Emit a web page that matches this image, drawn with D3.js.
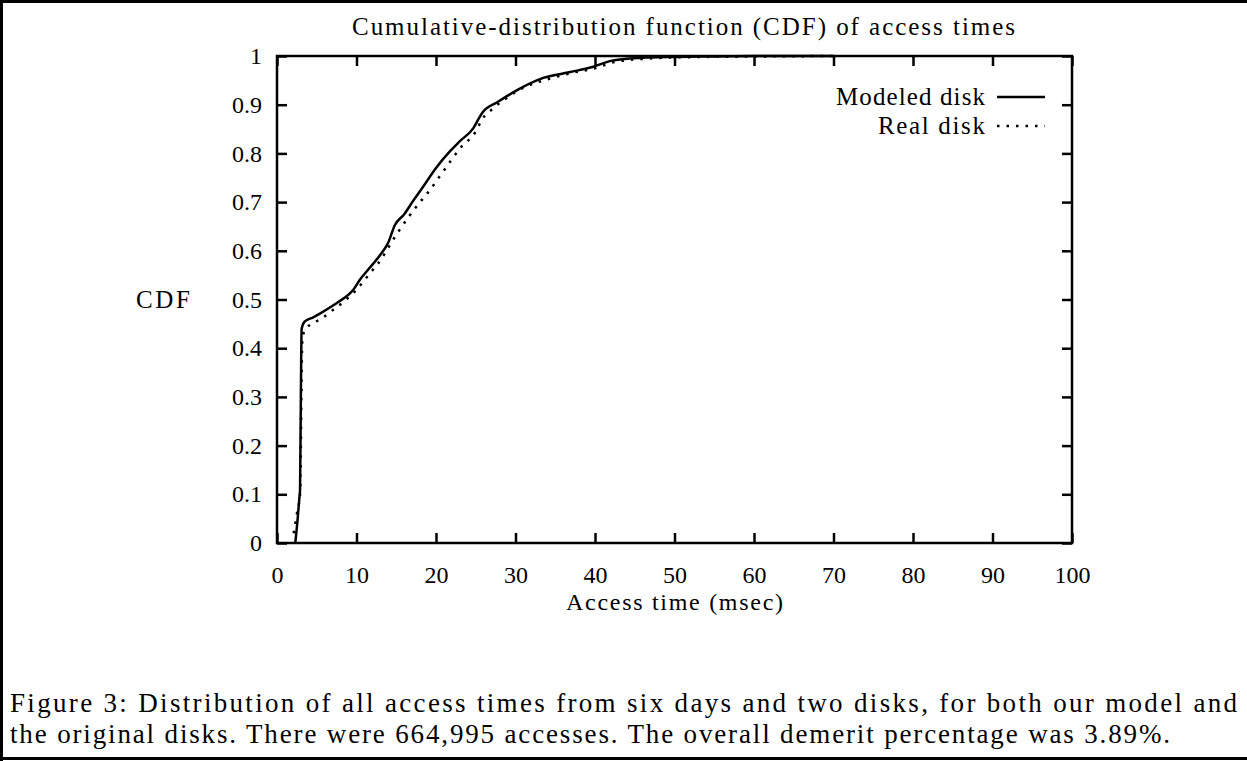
<!DOCTYPE html>
<html>
<head>
<meta charset="utf-8">
<script src="https://cdn.jsdelivr.net/npm/d3@7"></script>
<style>
  body { margin: 0; background: #fff; }
  text { font-family: "Liberation Serif", serif; fill: #000; }
</style>
</head>
<body>
<div id="chart"></div>
<script>
// access time (msec) vs CDF
const modelX = [2.3, 2.6, 2.8, 2.9, 3.0, 3.1, 3.5, 4.5, 5.5, 6.5, 7.9, 9.0, 9.6, 10.4, 11.5, 13.0, 14.0, 14.8, 16.0, 17.1, 18.4, 20.0, 21.8, 23.0, 24.7, 25.5, 25.9, 27.7, 30.2, 33.5, 36.9, 39.8, 42.0, 45.7, 50, 55, 60, 70];
const modelY = [0, 0.05, 0.09, 0.11, 0.3, 0.44, 0.455, 0.463, 0.472, 0.482, 0.497, 0.51, 0.52, 0.54, 0.562, 0.592, 0.617, 0.652, 0.675, 0.702, 0.732, 0.77, 0.805, 0.825, 0.852, 0.875, 0.885, 0.905, 0.93, 0.955, 0.967, 0.978, 0.99, 0.996, 0.998, 0.999, 1.0, 1.0];

const realX = [2.1, 2.5, 2.9, 3.0, 3.1, 3.2, 3.6, 4.2, 5.7, 7.0, 8.5, 10.0, 11.5, 13.2, 14.5, 15.5, 17.5, 19.0, 21.0, 23.0, 25.0, 25.8, 27.0, 29.0, 31.0, 34.0, 37.0, 40.0, 42.5, 46, 50, 60, 70];
const realY = [0.02, 0.06, 0.1, 0.2, 0.35, 0.42, 0.44, 0.448, 0.462, 0.478, 0.497, 0.52, 0.55, 0.585, 0.62, 0.645, 0.69, 0.72, 0.765, 0.81, 0.845, 0.87, 0.89, 0.915, 0.935, 0.952, 0.965, 0.975, 0.988, 0.994, 0.997, 0.999, 1.0];

const xTicks = [0, 10, 20, 30, 40, 50, 60, 70, 80, 90, 100];
const yTicks = [0, 0.1, 0.2, 0.3, 0.4, 0.5, 0.6, 0.7, 0.8, 0.9, 1];
const yTickLabels = ['0', '0.1', '0.2', '0.3', '0.4', '0.5', '0.6', '0.7', '0.8', '0.9', '1'];

const seriesNames = ['Modeled disk', 'Real disk'];
const title = 'Cumulative-distribution function (CDF) of access times';
const captionLines = [
    'Figure 3: Distribution of all access times from six days and two disks, for both our model and',
    'the original disks. There were 664,995 accesses. The overall demerit percentage was 3.89%.'
];

const width = 1247, height = 761;
const margin = { left: 277, right: 1072, top: 56, bottom: 543 };
const fontSize = 25;

const svg = d3.select('#chart').append('svg')
    .attr('width', width)
    .attr('height', height);

// outer frame (left, top, bottom)
svg.append('path')
    .attr('d', `M1.5,${height} L1.5,1.5 L${width},1.5 M0,758.5 L${width},758.5`)
    .attr('fill', 'none')
    .attr('stroke', '#000')
    .attr('stroke-width', 3);

const x = d3.scaleLinear().domain([0, 100]).range([margin.left, margin.right]);
const y = d3.scaleLinear().domain([0, 1]).range([margin.bottom, margin.top]);

const tickLen = -10;

svg.append('g')
    .attr('transform', `translate(0,${margin.bottom})`)
    .call(d3.axisBottom(x).tickValues(xTicks).tickSize(tickLen).tickPadding(23))
    .call(g => g.select('.domain').remove());

svg.append('g')
    .attr('transform', `translate(0,${margin.top})`)
    .call(d3.axisTop(x).tickValues(xTicks).tickSize(tickLen).tickFormat(''))
    .call(g => g.select('.domain').remove());

svg.append('g')
    .attr('transform', `translate(${margin.left},0)`)
    .call(d3.axisLeft(y).tickValues(yTicks).tickSize(tickLen).tickPadding(15)
        .tickFormat((d, i) => yTickLabels[i]))
    .call(g => g.select('.domain').remove());

svg.append('g')
    .attr('transform', `translate(${margin.right},0)`)
    .call(d3.axisRight(y).tickValues(yTicks).tickSize(tickLen).tickFormat(''))
    .call(g => g.select('.domain').remove());

svg.selectAll('.tick line').attr('stroke', '#000').attr('stroke-width', 2.5);
svg.selectAll('.tick text')
    .attr('font-size', 24)
    .attr('font-family', '"Liberation Serif", serif');

svg.append('rect')
    .attr('x', margin.left)
    .attr('y', margin.top)
    .attr('width', margin.right - margin.left)
    .attr('height', margin.bottom - margin.top)
    .attr('fill', 'none')
    .attr('stroke', '#000')
    .attr('stroke-width', 2.5);

// curves
const line = d3.line().x(d => x(d[0])).y(d => y(d[1])).curve(d3.curveMonotoneX);

svg.append('path')
    .datum(realX.map((v, i) => [v, realY[i]]))
    .attr('d', line)
    .attr('fill', 'none')
    .attr('stroke', '#000')
    .attr('stroke-width', 2.5)
    .attr('stroke-dasharray', '2.5,7');

svg.append('path')
    .datum(modelX.map((v, i) => [v, modelY[i]]))
    .attr('d', line)
    .attr('fill', 'none')
    .attr('stroke', '#000')
    .attr('stroke-width', 2.5);

// texts
svg.append('text')
    .attr('x', 352).attr('y', 35)
    .attr('font-size', fontSize)
    .attr('textLength', 663)
    .attr('lengthAdjust', 'spacing')
    .text(title);

svg.append('text')
    .attr('x', 566).attr('y', 610)
    .attr('font-size', 24)
    .attr('textLength', 217)
    .attr('lengthAdjust', 'spacing')
    .text('Access time (msec)');

svg.append('text')
    .attr('x', 136).attr('y', 308)
    .attr('font-size', fontSize)
    .attr('textLength', 54)
    .attr('lengthAdjust', 'spacing')
    .text('CDF');

// legend
const legend = svg.append('g');
const legendRows = [
    { name: seriesNames[0], y: 97, dash: null, x0: 836 },
    { name: seriesNames[1], y: 126, dash: '2.5,7', x0: 878 }
];
legendRows.forEach(r => {
    legend.append('text')
        .attr('x', r.x0).attr('y', r.y + 8)
        .attr('font-size', fontSize)
        .attr('textLength', 985 - r.x0)
        .attr('lengthAdjust', 'spacing')
        .text(r.name);
    legend.append('line')
        .attr('x1', 997).attr('x2', 1045)
        .attr('y1', r.y).attr('y2', r.y)
        .attr('stroke', '#000')
        .attr('stroke-width', 2.5)
        .attr('stroke-dasharray', r.dash);
});

// caption
const captionWidths = [1227, 1160];
captionLines.forEach((t, i) => {
    svg.append('text')
        .attr('x', 10).attr('y', 712 + i * 31)
        .attr('font-size', 27)
        .attr('textLength', captionWidths[i])
        .attr('lengthAdjust', 'spacing')
        .text(t);
});
</script>
</body>
</html>
